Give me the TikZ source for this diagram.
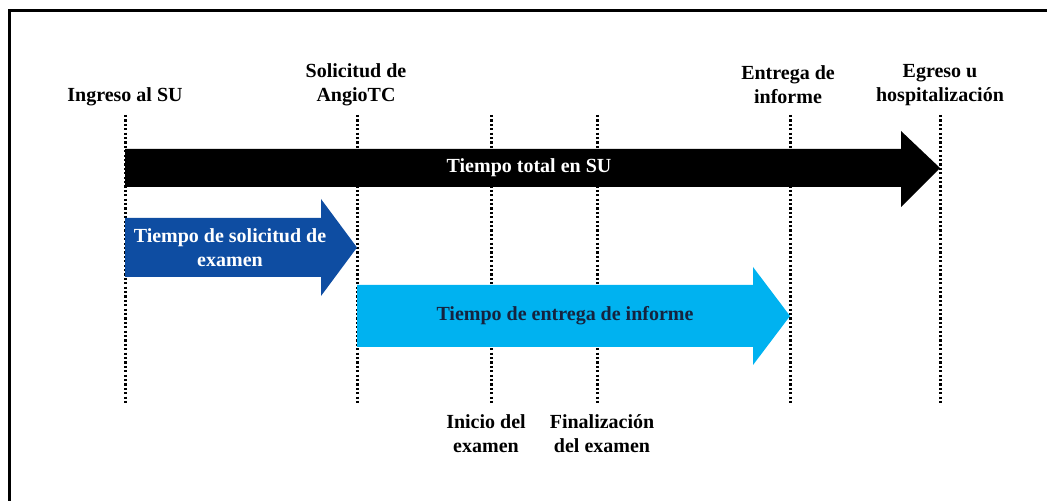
\documentclass[tikz,border=0pt]{standalone}
\usepackage{fontspec}
\setmainfont{Liberation Serif}
\definecolor{solblue}{HTML}{0E4DA2}
\definecolor{entblue}{HTML}{00B2F0}
\definecolor{entnavy}{HTML}{15233F}

\begin{document}
\begin{tikzpicture} [
        x=0.5pt, y=-0.5pt,
        event/.style={font=\bfseries, align=center, inner sep=0pt},
        period/.style={font=\bfseries, align=center, inner sep=0pt},
        guide/.style={line width=1.5pt, dash pattern=on 1.1pt off 1.1pt},
        frame/.style={line width=1.75pt} ]
    \useasboundingbox (0,0) rectangle (1047,501);
    \draw[frame] (9.5,501) -- (9.5,10.5) -- (1047,10.5);

    % guide lines
    \foreach \n/\x in {ing/125, sol/357, ini/491, fin/597, ent/790, egr/940} {
        \coordinate (\n top) at (\x,115);
        \coordinate (\n bot) at (\x,405);
        \draw[guide] (\n top) -- (\n bot);
    }

    % events
    \node[event] (ingreso) at (125,97) {Ingreso al SU};
    \node[event] (solicitud) at (356,85) {Solicitud de\\AngioTC};
    \node[event] (entrega) at (788,85) {Entrega de\\informe};
    \node[event] (egreso) at (940,85) {Egreso u\\hospitalización};
    \node[event] (inicio) at (486,434) {Inicio del\\examen};
    \node[event] (finalizacion) at (602,434) {Finalización\\del examen};

    % periods
    \fill[black] (125,149) -- (901,149) -- (901,131) -- (940,168)
        -- (901,207) -- (901,187) -- (125,187) -- cycle;
    \fill[solblue] (125,218) -- (321,218) -- (321,199) -- (357,247.5)
        -- (321,296) -- (321,277) -- (125,277) -- cycle;
    \fill[entblue] (357,285) -- (753,285) -- (753,267) -- (790,316)
        -- (753,365) -- (753,347) -- (357,347) -- cycle;
    \node[period, white] (total) at (529,168) {Tiempo total en SU};
    \node[period, white] (tsolicitud) at (230,248) {Tiempo de solicitud de\\examen};
    \node[period, entnavy] (tentrega) at (565,316) {Tiempo de entrega de informe};
\end{tikzpicture}
\end{document}
